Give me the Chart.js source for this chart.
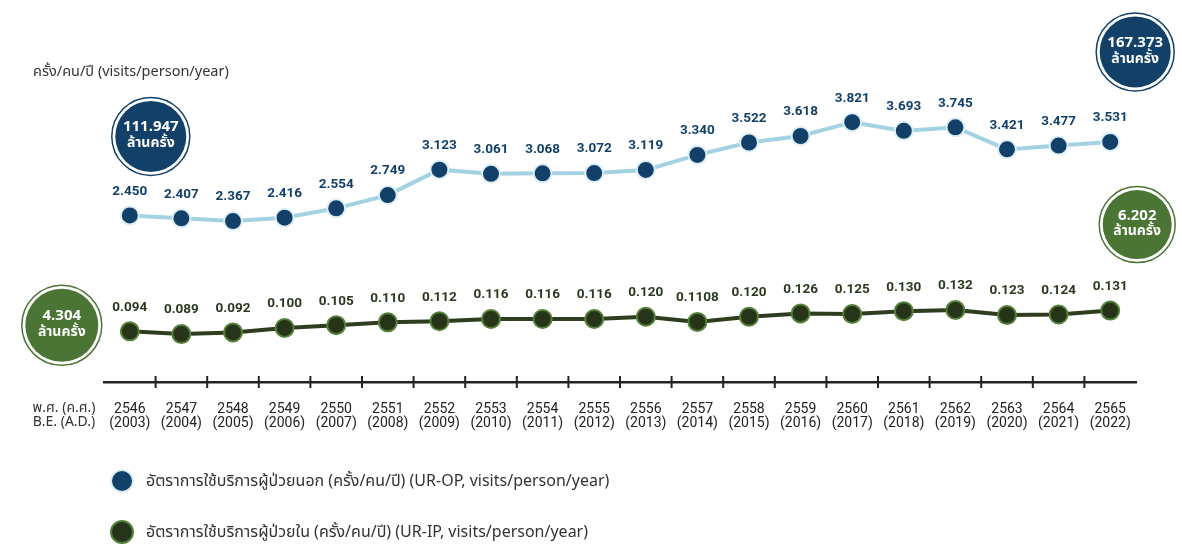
<!DOCTYPE html>
<html>
<head>
<meta charset="utf-8">
<script src="https://cdn.jsdelivr.net/npm/chart.js@4.4.0/dist/chart.umd.min.js"></script>
<style>
  html, body { margin: 0; padding: 0; background: #fff; }
  body { width: 1182px; height: 546px; position: relative; overflow: hidden;
         font-family: "Noto Sans Thai", "Noto Sans", Roboto, sans-serif; }
  #wrap { position: absolute; left: 0; top: 0; width: 1182px; height: 546px; }
  .legend { position: absolute; left: 110px; display: flex; align-items: center;
            font-size: 16px; color: #333; }
  .legend .dot { width: 24px; height: 24px; border-radius: 50%; margin-right: 12px; box-sizing: border-box; }
</style>
</head>
<body>
<div id="wrap"><canvas id="c" width="1182" height="546"></canvas></div>
<div class="legend" style="top:469px"><span class="dot" style="background:#124069;border:2.5px solid #dceef6"></span><span id="lg0"></span></div>
<div class="legend" style="top:520px"><span class="dot" style="background:#26341a;border:2.5px solid #55803a"></span><span id="lg1"></span></div>
<script>
// years (B.E. / A.D.)
const beYears = ['2546','2547','2548','2549','2550','2551','2552','2553','2554','2555','2556','2557','2558','2559','2560','2561','2562','2563','2564','2565'];
const adYears = ['(2003)','(2004)','(2005)','(2006)','(2007)','(2008)','(2009)','(2010)','(2011)','(2012)','(2013)','(2014)','(2015)','(2016)','(2017)','(2018)','(2019)','(2020)','(2021)','(2022)'];

// outpatient visits/person/year
const opValues = ['2.450','2.407','2.367','2.416','2.554','2.749','3.123','3.061','3.068','3.072','3.119','3.340','3.522','3.618','3.821','3.693','3.745','3.421','3.477','3.531'];
// inpatient visits/person/year (kept as printed)
const ipValues = ['0.094','0.089','0.092','0.100','0.105','0.110','0.112','0.116','0.116','0.116','0.120','0.1108','0.120','0.126','0.125','0.130','0.132','0.123','0.124','0.131'];

const seriesNames = [
  'อัตราการใช้บริการผู้ป่วยนอก (ครั้ง/คน/ปี) (UR-OP, visits/person/year)',
  'อัตราการใช้บริการผู้ป่วยใน (ครั้ง/คน/ปี) (UR-IP, visits/person/year)'
];
// total visits: [first year, last year]
const opTotals = ['111.947', '167.373'];
const ipTotals = ['4.304', '6.202'];
const totalUnit = 'ล้านครั้ง';
const unitTitle = 'ครั้ง/คน/ปี (visits/person/year)';
const axisNames = ['พ.ศ. (ค.ศ.)', 'B.E. (A.D.)'];

document.getElementById('lg0').textContent = seriesNames[0];
document.getElementById('lg1').textContent = seriesNames[1];

const FONT = '"Noto Sans Thai", "Noto Sans", Roboto, sans-serif';
const NAVY = '#124069';
const GREEN = '#4b7535';

const labels = beYears.map((b, i) => [b, adYears[i]]);

function badge(ctx, x, y, r, color, num) {
  ctx.save();
  ctx.beginPath();
  ctx.arc(x, y, r, 0, Math.PI * 2);
  ctx.strokeStyle = color;
  ctx.lineWidth = 1.5;
  ctx.stroke();
  ctx.beginPath();
  ctx.arc(x, y, r - 3.5, 0, Math.PI * 2);
  ctx.fillStyle = color;
  ctx.fill();
  ctx.fillStyle = '#fff';
  ctx.textAlign = 'center';
  ctx.textBaseline = 'middle';
  ctx.font = 'bold 15px ' + FONT;
  ctx.fillText(num, x, y - 8);
  ctx.font = 'bold 14px ' + FONT;
  ctx.fillText(totalUnit, x, y + 8);
  ctx.restore();
}

const decor = {
  id: 'decor',
  afterDraw(chart) {
    const ctx = chart.ctx;
    const xs = chart.scales.x;
    const area = chart.chartArea;
    const axisY = area.bottom;

    // crossing tick marks between categories
    ctx.save();
    ctx.strokeStyle = '#222';
    ctx.lineWidth = 2;
    for (let i = 1; i < beYears.length; i++) {
      const x = (xs.getPixelForValue(i - 1) + xs.getPixelForValue(i)) / 2;
      ctx.beginPath();
      ctx.moveTo(x, axisY - 6);
      ctx.lineTo(x, axisY + 6);
      ctx.stroke();
    }
    ctx.restore();

    // unit title and axis name
    ctx.save();
    ctx.fillStyle = '#333';
    ctx.font = '14.5px ' + FONT;
    ctx.textBaseline = 'middle';
    ctx.textAlign = 'left';
    ctx.fillText(unitTitle, 33, 73);
    ctx.textAlign = 'center';
    ctx.font = '14px ' + FONT;
    ctx.fillText(axisNames[0], area.left - 40, axisY + 27);
    ctx.fillText(axisNames[1], area.left - 40, axisY + 41);
    ctx.restore();

    // value labels
    const colors = [NAVY, '#2b3a1f'];
    chart.data.datasets.forEach((ds, di) => {
      const meta = chart.getDatasetMeta(di);
      ctx.save();
      ctx.fillStyle = colors[di];
      ctx.font = 'bold 13.5px Roboto, sans-serif';
      ctx.textAlign = 'center';
      ctx.textBaseline = 'middle';
      meta.data.forEach((pt, i) => {
        ctx.fillText(ds.data[i], pt.x, pt.y - 24);
      });
      ctx.restore();
    });

    // totals badges next to first and last points
    const op = chart.getDatasetMeta(0).data;
    const ip = chart.getDatasetMeta(1).data;
    const n = op.length - 1;
    badge(ctx, op[0].x + 21, op[0].y - 79, 39, NAVY, opTotals[0]);
    badge(ctx, op[n].x + 25, op[n].y - 90, 39, NAVY, opTotals[1]);
    badge(ctx, ip[0].x - 68, ip[0].y - 6, 40, GREEN, ipTotals[0]);
    badge(ctx, ip[n].x + 27, ip[n].y - 86, 38, GREEN, ipTotals[1]);
  }
};

new Chart(document.getElementById('c'), {
  type: 'line',
  data: {
    labels: labels,
    datasets: [
      {
        label: seriesNames[0],
        data: opValues,
        yAxisID: 'y',
        borderColor: '#a3d2e2',
        borderWidth: 4,
        pointRadius: 9,
        pointBackgroundColor: NAVY,
        pointBorderColor: '#dceef6',
        pointBorderWidth: 2,
        tension: 0
      },
      {
        label: seriesNames[1],
        data: ipValues,
        yAxisID: 'y2',
        borderColor: '#2d3d1e',
        borderWidth: 4,
        pointRadius: 9,
        pointBackgroundColor: '#26341a',
        pointBorderColor: '#55803a',
        pointBorderWidth: 2,
        tension: 0
      }
    ]
  },
  options: {
    responsive: false,
    animation: false,
    layout: { padding: { left: 104, right: 46, top: 20, bottom: 96 } },
    plugins: { legend: { display: false }, tooltip: { enabled: false } },
    scales: {
      x: {
        type: 'category',
        offset: true,
        grid: { display: false, drawTicks: false },
        border: { display: true, color: '#222', width: 2.5 },
        ticks: {
          color: '#222',
          padding: 20,
          maxRotation: 0,
          autoSkip: false,
          font: { family: 'Roboto, sans-serif', size: 14, lineHeight: 1.0 }
        }
      },
      y: { display: false, min: 0, max: 5.3235 },
      y2: { display: false, min: 0.0035, max: 0.6499 }
    }
  },
  plugins: [decor]
});
</script>
</body>
</html>
